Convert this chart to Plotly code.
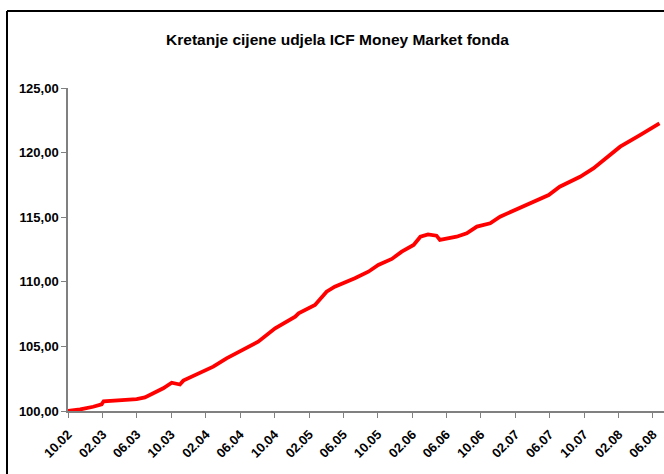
import plotly.graph_objects as go

# Price of fund unit
dates = [
    "2002-10-01", "2002-11-13", "2002-12-29", "2003-01-28", "2003-02-04",
    "2003-04-02", "2003-06-01", "2003-06-30", "2003-07-28", "2003-09-03",
    "2003-10-03", "2003-10-18", "2003-11-01", "2003-11-13", "2004-01-11",
    "2004-02-27", "2004-04-14", "2004-06-12", "2004-08-04", "2004-10-03",
    "2004-12-13", "2004-12-25", "2005-02-21", "2005-04-03", "2005-05-02",
    "2005-07-12", "2005-08-29", "2005-10-03", "2005-11-20", "2005-12-25",
    "2006-02-05", "2006-03-01", "2006-03-28", "2006-04-27", "2006-05-09",
    "2006-07-07", "2006-08-12", "2006-09-17", "2006-11-03", "2006-12-08",
    "2007-01-25", "2007-03-12", "2007-04-16", "2007-05-29", "2007-07-07",
    "2007-09-17", "2007-11-03", "2008-01-01", "2008-02-06", "2008-04-16",
    "2008-06-24",
]
prices = [
    100.00, 100.12, 100.33, 100.52, 100.75,
    100.85, 100.92, 101.05, 101.37, 101.76,
    102.19, 102.15, 102.05, 102.35, 102.92,
    103.43, 104.08, 104.72, 105.36, 106.40,
    107.30, 107.56, 108.20, 109.23, 109.62,
    110.27, 110.78, 111.30, 111.77, 112.33,
    112.85, 113.49, 113.67, 113.57, 113.24,
    113.49, 113.75, 114.27, 114.53, 115.04,
    115.50, 115.95, 116.33, 116.72, 117.36,
    118.13, 118.78, 119.81, 120.46, 121.36,
    122.27,
]

x_tick_dates = [
    "2002-10-01", "2003-02-01", "2003-06-01", "2003-10-01", "2004-02-01",
    "2004-06-01", "2004-10-01", "2005-02-01", "2005-06-01", "2005-10-01",
    "2006-02-01", "2006-06-01", "2006-10-01", "2007-02-01", "2007-06-01",
    "2007-10-01", "2008-02-01", "2008-06-01",
]
x_tick_labels = [
    "10.02", "02.03", "06.03", "10.03", "02.04", "06.04", "10.04", "02.05",
    "06.05", "10.05", "02.06", "06.06", "10.06", "02.07", "06.07", "10.07",
    "02.08", "06.08",
]
y_tick_vals = [100, 105, 110, 115, 120, 125]
y_tick_labels = ["100,00", "105,00", "110,00", "115,00", "120,00", "125,00"]

title_text = "Kretanje cijene udjela ICF Money Market fonda"

W, H = 664, 474
ml, mr, mt, mb = 68, 0, 88, 63
font_family = "Liberation Sans, Arial, sans-serif"

fig = go.Figure()
fig.add_trace(go.Scatter(
    x=dates, y=prices, mode="lines",
    line=dict(color="#FF0000", width=3.8),
    hoverinfo="skip", showlegend=False,
))

# outer chart frame (left and top edges visible)
px_w = W - ml - mr
px_h = H - mt - mb
fx = (7 - ml) / px_w
fy = (H - mb - 11) / px_h
fig.add_shape(type="line", xref="paper", yref="paper",
              x0=fx, x1=fx, y0=fy, y1=-2, line=dict(color="black", width=2))
fig.add_shape(type="line", xref="paper", yref="paper",
              x0=fx, x1=2, y0=fy, y1=fy, line=dict(color="black", width=2))

fig.update_layout(
    width=W, height=H,
    margin=dict(l=ml, r=mr, t=mt, b=mb, autoexpand=False),
    paper_bgcolor="white", plot_bgcolor="white",
    font=dict(family=font_family, color="black"),
    title=dict(text=title_text, x=337.5 / W, xref="container", xanchor="center",
               y=1 - 40 / H, yref="container", yanchor="middle",
               font=dict(size=15.5, weight="bold", family=font_family, color="black")),
    showlegend=False,
)
fig.update_xaxes(
    type="date", range=["2002-10-01", "2008-07-10"],
    tickvals=x_tick_dates, ticktext=x_tick_labels, tickangle=-45,
    tickfont=dict(size=13, weight="bold", family=font_family, color="black"),
    ticklabelstandoff=4,
    showgrid=False, zeroline=False,
    showline=True, linecolor="#808080", linewidth=1.5,
    ticks="outside", ticklen=5, tickcolor="#808080", tickwidth=1,
)
fig.update_yaxes(
    range=[100, 125], tickvals=y_tick_vals, ticktext=y_tick_labels,
    tickfont=dict(size=13, weight="bold", family=font_family, color="black"),
    showgrid=False, zeroline=False,
    showline=True, linecolor="#808080", linewidth=1.5,
    ticks="outside", ticklen=5, tickcolor="#808080", tickwidth=1,
)

fig.write_html(
    "out.html",
    config={"displayModeBar": False},
    post_script="document.body.style.margin='0';document.body.style.overflow='hidden';",
)
